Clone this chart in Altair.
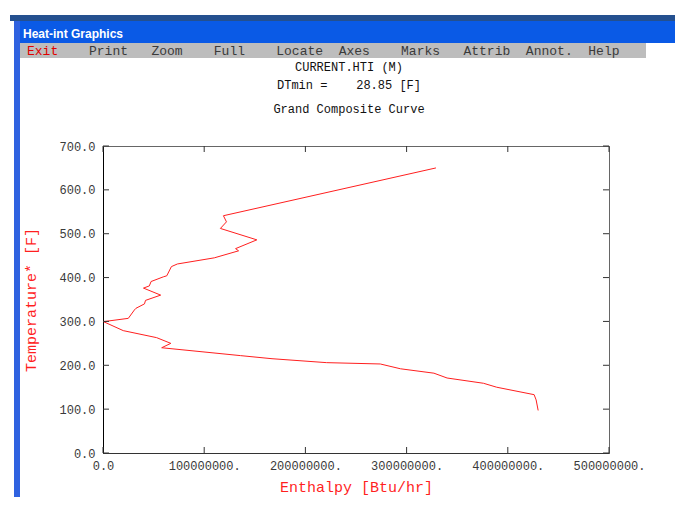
import altair as alt
import pandas as pd

# ---- data ----
enthalpy = [3.29e8, 1.19e8, 1.22e8, 1.16e8, 1.52e8, 1.31e8, 1.34e8, 1.10e8,
            0.735e8, 0.676e8, 0.63e8, 0.60e8, 0.475e8, 0.458e8, 0.40e8, 0.57e8,
            0.42e8, 0.41e8, 0.326e8, 0.31e8, 0.25e8, 0.02e8, 0.0, 0.2e8,
            0.53e8, 0.67e8, 0.58e8, 1.36e8, 1.67e8, 2.21e8, 2.74e8, 2.94e8,
            3.27e8, 3.40e8, 3.76e8, 3.89e8, 4.26e8, 4.28e8, 4.30e8]
temperature = [650, 541, 527, 512, 486, 466, 461, 445,
               431, 425, 404, 402, 391, 381, 376, 360,
               348, 340, 330, 326, 307, 300, 300, 279,
               263, 250, 240, 222, 215, 206, 203, 192,
               182, 171, 159, 150, 133, 121, 97]
x_ticks = [0, 100000000, 200000000, 300000000, 400000000, 500000000]
y_ticks = [0, 100, 200, 300, 400, 500, 600, 700]
menu_items = ["Exit", "Print", "Zoom", "Full", "Locate", "Axes", "Marks",
              "Attrib", "Annot.", "Help"]
window_title = "Heat-int Graphics"
title_lines = ["CURRENT.HTI (M)", "DTmin =    28.85 [F]", "Grand Composite Curve"]
x_title = "Enthalpy [Btu/hr]"
y_title = "Temperature* [F]"

NB = "\u00a0"
MONO = "Liberation Mono"
W, H = 506, 307
RED = "#ff1f1f"

curve = pd.DataFrame({"H": enthalpy, "T": temperature,
                      "i": list(range(len(enthalpy)))})
xt = pd.DataFrame({"H": x_ticks})
yt = pd.DataFrame({"T": y_ticks})
one = pd.DataFrame({"k": [0]})

xs = alt.Scale(domain=[0, 500000000], nice=False, zero=False)
ys = alt.Scale(domain=[0, 700], nice=False)

x_axis = alt.Axis(values=x_ticks,
                  labelExpr="datum.value == 0 ? '0.0' : format(datum.value, 'd') + '.'",
                  labelPadding=7, titlePadding=8, domainColor="#333",
                  labelOverlap=False, labelFlush=False, labelBound=False)
y_axis = alt.Axis(values=y_ticks, format=".1f",
                  labelPadding=8, titlePadding=20, domainColor="#000",
                  labelOverlap=False, labelFlush=False)

line = alt.Chart(curve).mark_line(color=RED, strokeWidth=1).encode(
    x=alt.X("H:Q", scale=xs, title=x_title, axis=x_axis),
    y=alt.Y("T:Q", scale=ys, title=y_title, axis=y_axis),
    order="i:Q",
)

tick_col = "#333"
bottom_ticks = alt.Chart(xt).mark_rule(color=tick_col).encode(
    x=alt.X("H:Q", scale=xs, title=x_title), y=alt.value(H - 6), y2=alt.value(H))
top_ticks = alt.Chart(xt).mark_rule(color=tick_col).encode(
    x=alt.X("H:Q", scale=xs, title=x_title), y=alt.value(0), y2=alt.value(6))
left_ticks = alt.Chart(yt).mark_rule(color=tick_col).encode(
    y=alt.Y("T:Q", scale=ys, title=y_title), x=alt.value(0), x2=alt.value(6))
right_ticks = alt.Chart(yt).mark_rule(color=tick_col).encode(
    y=alt.Y("T:Q", scale=ys, title=y_title), x=alt.value(W - 6), x2=alt.value(W))

# ---- window chrome ----
dark_strip = alt.Chart(one).mark_rect(color="#24508f").encode(
    x=alt.value(-93), x2=alt.value(W + 70), y=alt.value(-131), y2=alt.value(-125))
title_bar = alt.Chart(one).mark_rect(color="#0a5ae6").encode(
    x=alt.value(-87), x2=alt.value(W + 70), y=alt.value(-125), y2=alt.value(-103))
left_border = alt.Chart(one).mark_rect(color="#2f62e0").encode(
    x=alt.value(-89), x2=alt.value(-83), y=alt.value(-125), y2=alt.value(H + 60))
menu_bar = alt.Chart(one).mark_rect(color="#bdbdbd").encode(
    x=alt.value(-83), x2=alt.value(543), y=alt.value(-103), y2=alt.value(-88))

win_text = alt.Chart(one).mark_text(
    text=window_title, font="Liberation Sans", fontSize=12, fontWeight="bold",
    color="white", align="left", baseline="alphabetic").encode(
    x=alt.value(-80), y=alt.value(-108))

rest_menu = "".join(s.ljust(8) for s in menu_items[1:]).rstrip().replace(" ", NB)
menu_text = alt.Chart(one).mark_text(
    text=rest_menu, font=MONO, fontSize=13, color="#3a3a3a",
    align="left", baseline="alphabetic").encode(
    x=alt.value(-14), y=alt.value(-91))
exit_text = alt.Chart(one).mark_text(
    text=menu_items[0], font=MONO, fontSize=13, color="#e00000",
    align="left", baseline="alphabetic").encode(
    x=alt.value(-76), y=alt.value(-91))

title_layers = []
for txt, yy in zip(title_lines, [-79, -61, -37]):
    title_layers.append(
        alt.Chart(one).mark_text(
            text=txt.replace(" ", NB), font=MONO, fontSize=12, color="#111",
            align="center", baseline="middle").encode(
            x=alt.value(246), y=alt.value(yy)))

chart = alt.layer(
    line, bottom_ticks, top_ticks, left_ticks, right_ticks,
    dark_strip, title_bar, left_border, menu_bar, win_text, menu_text, exit_text,
    *title_layers,
).properties(
    width=W, height=H,
    autosize=alt.AutoSizeParams(type="none"),
    padding={"left": 95, "top": 138, "right": 66, "bottom": 44},
    background="white",
).configure_view(
    stroke="#666", strokeWidth=1
).configure_axis(
    grid=False, ticks=False, tickSize=0,
    labelFont=MONO, labelFontSize=12, labelColor="#3a3a3a",
    titleFont=MONO, titleFontSize=15, titleColor=RED, titleFontWeight="normal",
)

chart.save("out.html", embed_options={"renderer": "svg", "actions": False})
